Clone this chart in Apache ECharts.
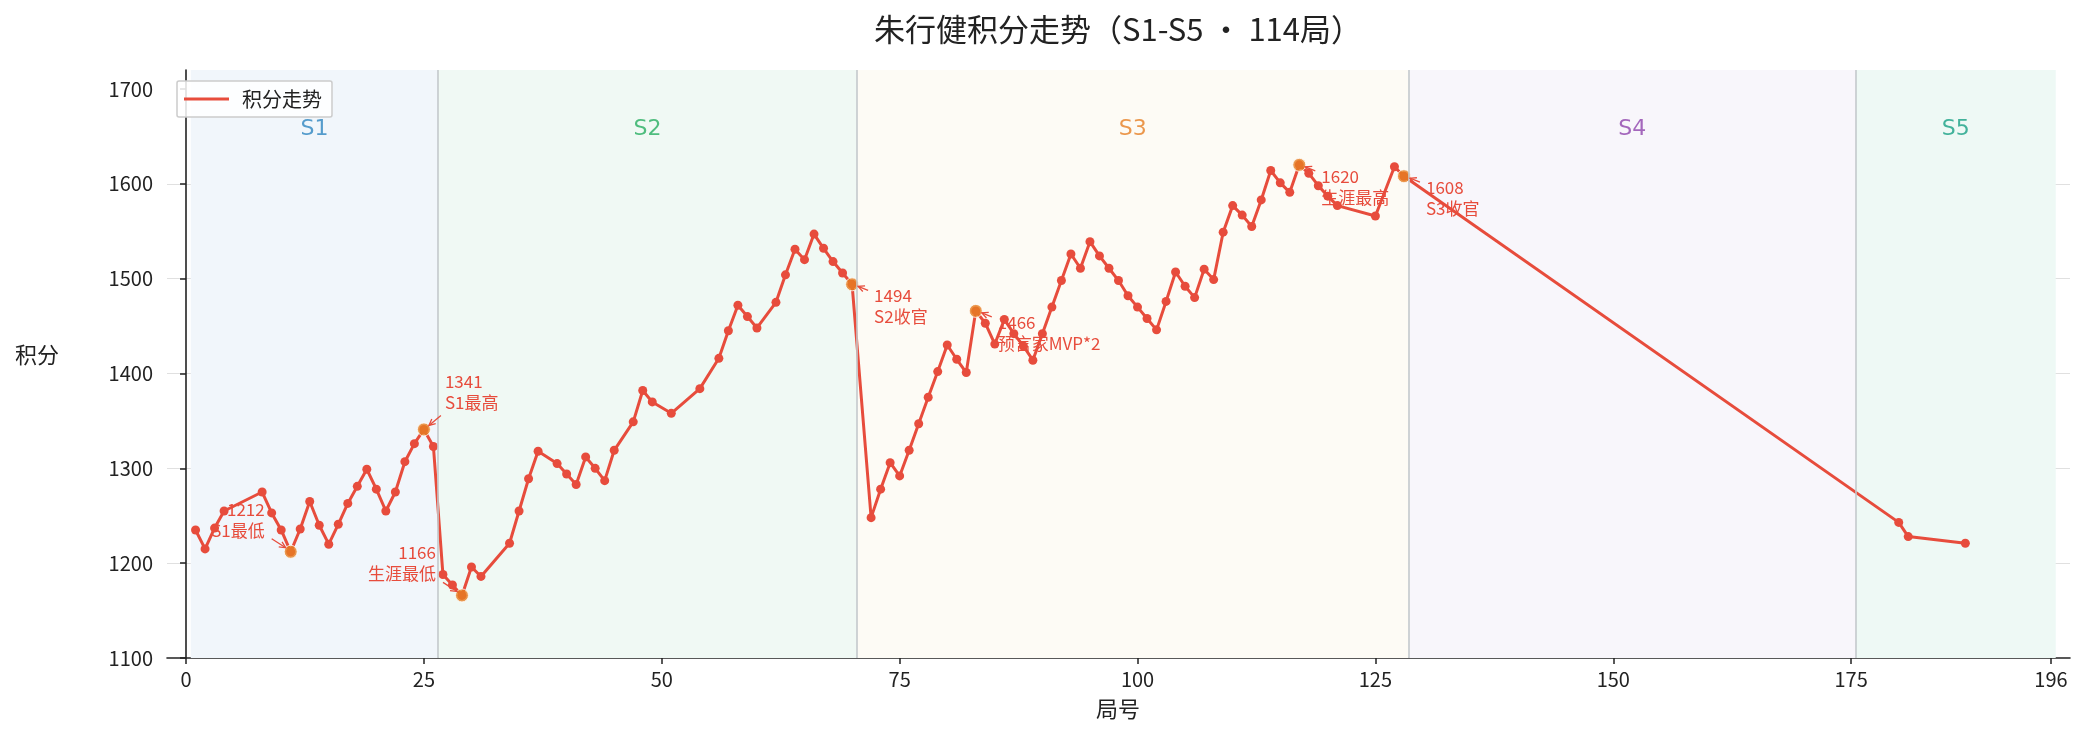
<!DOCTYPE html>
<html><head><meta charset="utf-8">
<script src="https://cdn.jsdelivr.net/npm/echarts@6/dist/echarts.min.js"></script>
<style>html,body{margin:0;padding:0;background:#fff}#c{width:2085px;height:734px}</style>
</head><body><div id="c"></div>
<script>
// ---- data ----
const games = [1,2,3,4,8,9,10,11,12,13,14,15,16,17,18,19,20,21,22,23,24,25,26,
  27,28,29,30,31,34,35,36,37,39,40,41,42,43,44,45,47,48,49,51,54,56,57,58,59,60,62,63,64,65,66,67,68,69,70,
  72,73,74,75,76,77,78,79,80,81,82,83,84,85,86,87,88,89,90,91,92,93,94,95,96,97,98,99,100,
  101,102,103,104,105,106,107,108,109,110,111,112,113,114,115,116,117,118,119,120,121,125,127,128,
  180,181,187];
const scores = [1235,1215,1237,1255,1275,1253,1235,1212,1236,1265,1240,1220,1241,1263,1281,1299,1278,1255,1275,1307,1326,1341,1323,
  1188,1177,1166,1196,1186,1221,1255,1289,1318,1305,1294,1283,1312,1300,1287,1319,1349,1382,1370,1358,1384,1416,1445,1472,1460,1448,1475,1504,1531,1520,1547,1532,1518,1506,1494,
  1248,1278,1306,1292,1319,1347,1375,1402,1430,1415,1401,1466,1453,1431,1457,1442,1429,1414,1442,1470,1498,1526,1511,1539,1524,1511,1498,1482,1470,
  1458,1446,1476,1507,1492,1480,1510,1499,1549,1577,1567,1555,1583,1614,1601,1591,1620,1611,1598,1587,1577,1566,1618,1608,
  1243,1228,1221];
const xTickValues = [0,25,50,75,100,125,150,175,196];
const yTickValues = [1100,1200,1300,1400,1500,1600,1700];
const seasonNames = ['S1','S2','S3','S4','S5'];
const seasonStart = [0.5,26.5,70.5,128.5,175.5];
const seasonEnd = [26.5,70.5,128.5,175.5,196.5];
const annGames = [11,25,29,70,83,117,128];
const annTexts = ['S1最低','S1最高','生涯最低','S2收官','预言家MVP*2','生涯最高','S3收官'];
const titleText = '朱行健积分走势（S1-S5 · 114局）';
const seriesName = '积分走势';

// ---- styles ----
const RED = '#e74c3c', ORANGE = '#e67e22';
const seasonTextColors = ['#2e86c1','#27ae60','#e67e22','#8e44ad','#16a085'];
const seasonFill = ['#f1f6fb','#f0f9f4','#fdfbf5','#f8f6fb','#eef9f5'];
const annPlace = ['ul','ur','ul','lr','lr','lr','lr'];
const CJK = '"Noto Sans CJK SC", "Noto Sans", sans-serif';
const seasonLabelValue = 1658;

const lineData = games.map((g, i) => [g, scores[i]]);
const annData = annGames.map(g => [g, scores[games.indexOf(g)]]);

const chart = echarts.init(document.getElementById('c'), null, {renderer: 'canvas'});
const option = {
  animation: false,
  backgroundColor: '#fff',
  textStyle: {fontFamily: CJK},
  grid: {left: 167, right: 15, top: 70, bottom: 76, containLabel: false},
  legend: {
    left: 177, top: 81, orient: 'vertical',
    data: [{name: seriesName, icon: 'rect'}],
    itemWidth: 45, itemHeight: 3, itemGap: 17,
    padding: [8, 10, 8, 7],
    borderColor: '#cccccc', borderWidth: 1.5, borderRadius: 2,
    backgroundColor: 'rgba(255,255,255,0.85)',
    textStyle: {fontSize: 20, color: '#222', fontFamily: CJK, padding: [0, 0, 0, 8]},
    z: 10
  },
  xAxis: {
    type: 'value', min: -2, max: 198,
    axisLine: {show: true, onZero: false, lineStyle: {color: '#222', width: 1.6}},
    axisTick: {show: true, length: 6, lineStyle: {color: '#222', width: 1.5}, customValues: xTickValues},
    axisLabel: {fontSize: 20, color: '#222', margin: 11, customValues: xTickValues, fontFamily: CJK,
      formatter: v => String(v)},
    splitLine: {show: false}
  },
  yAxis: {
    type: 'value', min: 1100, max: 1720, interval: 100,
    axisLine: {show: true, lineStyle: {color: '#222', width: 1.6}},
    axisTick: {show: true, length: 6, lineStyle: {color: '#222', width: 1.5}, customValues: yTickValues},
    axisLabel: {fontSize: 20, color: '#222', margin: 14, customValues: yTickValues, fontFamily: CJK,
      formatter: v => String(v)},
    splitLine: {show: true, showMaxLine: false, showMinLine: false, lineStyle: {color: '#e0e0e0', width: 1}}
  },
  series: [
    {
      name: 'seasons', type: 'scatter', z: 1, symbolSize: 0, silent: true,
      data: seasonNames.map((n, i) => ({
        name: n, value: [(seasonStart[i] + seasonEnd[i]) / 2, seasonLabelValue],
        label: {color: seasonTextColors[i]}
      })),
      label: {show: true, position: 'inside', formatter: p => p.name, fontSize: 22, fontFamily: '"DejaVu Sans", sans-serif'},
      markArea: {
        silent: true,
        data: seasonNames.map((n, i) => [
          {xAxis: seasonStart[i], itemStyle: {color: seasonFill[i]}},
          {xAxis: seasonEnd[i]}
        ])
      },
      markLine: {
        silent: true, symbol: ['none', 'none'], label: {show: false},
        lineStyle: {color: '#c3c9cc', width: 1.6, type: 'solid'},
        data: seasonStart.slice(1).map(x => ({xAxis: x}))
      }
    },
    {
      name: seriesName, type: 'line', z: 3,
      data: lineData,
      symbol: 'circle', symbolSize: 9, showSymbol: true,
      itemStyle: {color: RED},
      lineStyle: {color: RED, width: 3}
    },
    {
      name: 'highlights', type: 'scatter', z: 4,
      data: annData, symbolSize: 13,
      itemStyle: {color: ORANGE, borderColor: '#fff', borderWidth: 1}
    }
  ]
};
chart.setOption(option);

// ---- annotations via library's coordinate conversion ----
const els = [];
function arrowEls(x1, y1, x2, y2) {
  const ang = Math.atan2(y2 - y1, x2 - x1), L = 7, A = 0.45;
  return [
    {type: 'line', shape: {x1, y1, x2, y2}, style: {stroke: RED, lineWidth: 1.3}, z: 20},
    {type: 'polyline', shape: {points: [
      [x2 - L * Math.cos(ang - A), y2 - L * Math.sin(ang - A)], [x2, y2],
      [x2 - L * Math.cos(ang + A), y2 - L * Math.sin(ang + A)]]},
      style: {stroke: RED, lineWidth: 1.3, fill: null}, z: 20}
  ];
}
annData.forEach((d, i) => {
  const p = chart.convertToPixel({gridIndex: 0}, d);
  const txt = d[1] + '\n' + annTexts[i];
  let tx, ty, align, a;
  if (annPlace[i] === 'ul') { tx = p[0] - 26; ty = p[1] - 53; align = 'right'; a = [p[0] - 19, p[1] - 13, p[0] - 5, p[1] - 4]; }
  else if (annPlace[i] === 'ur') { tx = p[0] + 21; ty = p[1] - 58; align = 'left'; a = [p[0] + 17, p[1] - 14, p[0] + 5, p[1] - 4]; }
  else { tx = p[0] + 22; ty = p[1] + 1; align = 'left'; a = [p[0] + 16, p[1] + 6, p[0] + 6, p[1] + 2]; }
  els.push({type: 'text', z: 20, x: tx, y: ty, style: {
    text: txt, fill: RED, fontSize: 17, fontFamily: CJK, lineHeight: 21,
    align: align, textAlign: align, verticalAlign: 'top', textVerticalAlign: 'top'}});
  els.push(...arrowEls(a[0], a[1], a[2], a[3]));
});
// title and axis names
els.push({type: 'text', z: 20, x: 1118, y: 29, style: {text: titleText, fill: '#222', fontSize: 31, fontFamily: CJK,
  align: 'center', textAlign: 'center', verticalAlign: 'middle', textVerticalAlign: 'middle'}});
els.push({type: 'text', z: 20, x: 37, y: 355, style: {text: '积分', fill: '#222', fontSize: 22, fontFamily: CJK,
  align: 'center', textAlign: 'center', verticalAlign: 'middle', textVerticalAlign: 'middle'}});
els.push({type: 'text', z: 20, x: 1118, y: 709, style: {text: '局号', fill: '#222', fontSize: 22, fontFamily: CJK,
  align: 'center', textAlign: 'center', verticalAlign: 'middle', textVerticalAlign: 'middle'}});
chart.setOption({graphic: {elements: els}});
</script></body></html>
